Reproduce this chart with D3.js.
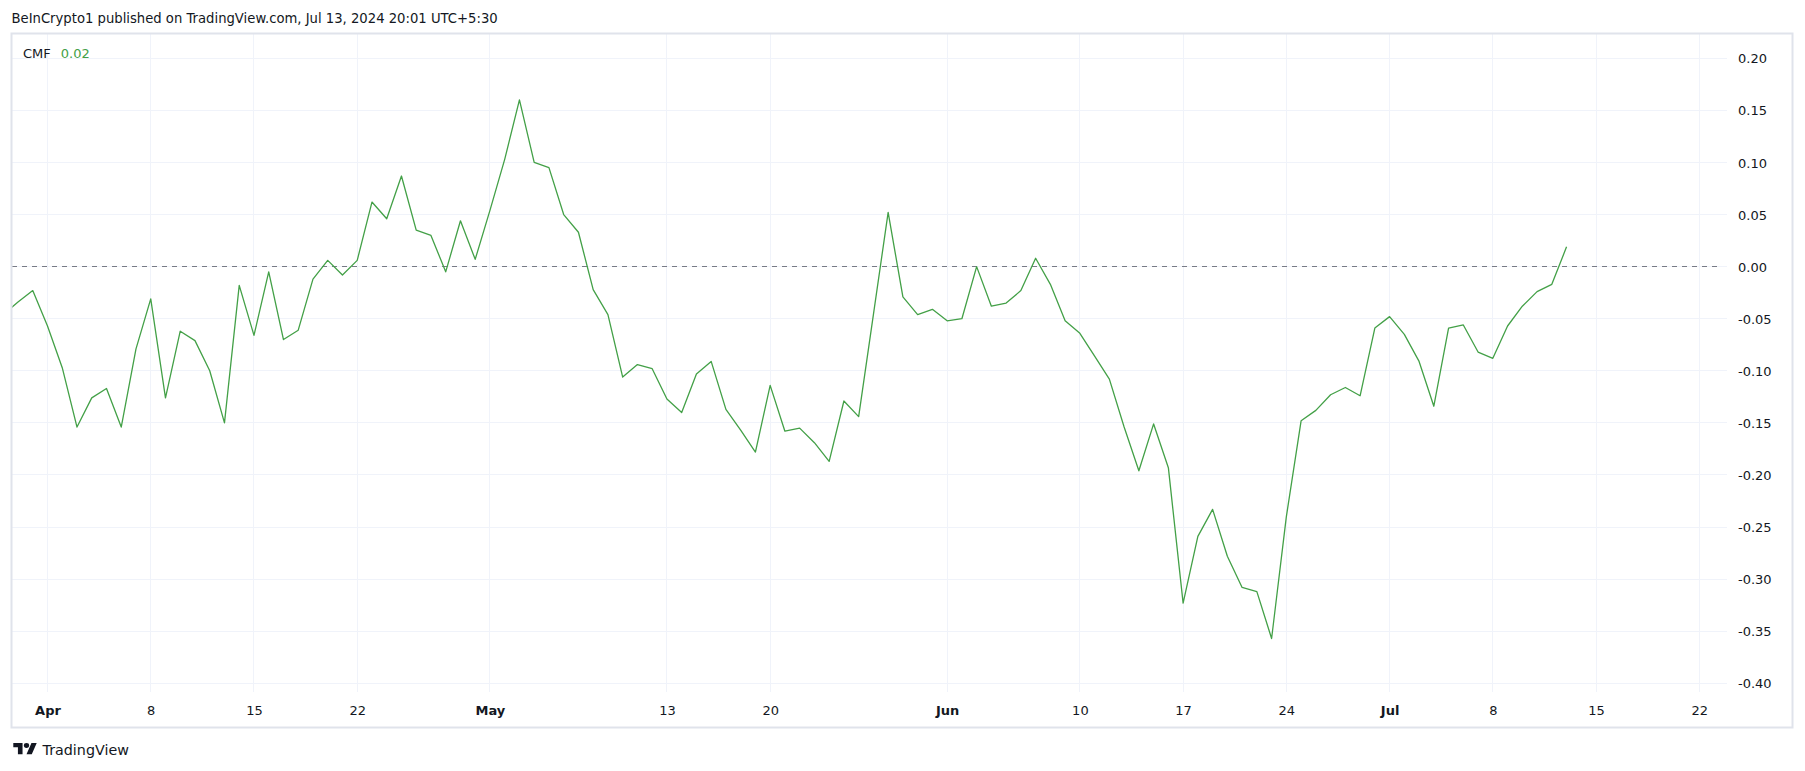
<!DOCTYPE html>
<html>
<head>
<meta charset="utf-8">
<script src="https://cdn.jsdelivr.net/npm/d3@7"></script>
<style>
  html, body { margin: 0; padding: 0; background: #ffffff; }
  svg { display: block; }
  text { font-family: "DejaVu Sans", Verdana, sans-serif; }
</style>
</head>
<body>
<svg id="chart" width="1805" height="771"></svg>
<script>
// ---------------- data ----------------
const title = "BeInCrypto1 published on TradingView.com, Jul 13, 2024 20:01 UTC+5:30";
const seriesName = "CMF";
const lastValueLabel = "0.02";
const startDay = "2024-03-29";
const endDay = "2024-07-13";
// daily CMF values, 2024-03-29 .. 2024-07-13
const cmfValues = [
  -0.046, -0.034, -0.023,
  -0.057, -0.097, -0.154, -0.126, -0.117, -0.154, -0.079, -0.031, -0.126, -0.062,
  -0.071, -0.100, -0.150, -0.018, -0.066, -0.005, -0.070, -0.061, -0.012, 0.006,
  -0.008, 0.006, 0.062, 0.046, 0.087, 0.035, 0.030, -0.005, 0.044, 0.007,
  0.054, 0.103, 0.160, 0.100, 0.095, 0.050, 0.033, -0.022, -0.046, -0.106,
  -0.094, -0.098, -0.127, -0.140, -0.103, -0.091, -0.137, -0.157, -0.178, -0.114,
  -0.158, -0.155, -0.169, -0.187, -0.129, -0.144, -0.046, 0.052, -0.029, -0.046,
  -0.041,
  -0.052, -0.050, 0.000, -0.038, -0.035, -0.023, 0.008, -0.017, -0.052, -0.064,
  -0.086, -0.108, -0.154, -0.196, -0.151, -0.193, -0.323, -0.259, -0.233, -0.278,
  -0.308, -0.312, -0.357, -0.240, -0.148, -0.138, -0.123, -0.116, -0.124, -0.059,
  -0.048, -0.065, -0.091, -0.134, -0.059, -0.056, -0.082, -0.088, -0.057, -0.038,
  -0.024, -0.017, 0.019
];
const xTickDates = ["2024-04-01","2024-04-08","2024-04-15","2024-04-22","2024-05-01","2024-05-13","2024-05-20",
  "2024-06-01","2024-06-10","2024-06-17","2024-06-24","2024-07-01","2024-07-08","2024-07-15","2024-07-22"];
const xTickLabels = ["Apr","8","15","22","May","13","20","Jun","10","17","24","Jul","8","15","22"];
const monthLabels = ["Apr","May","Jun","Jul"];
const yTicks = [0.20, 0.15, 0.10, 0.05, 0.00, -0.05, -0.10, -0.15, -0.20, -0.25, -0.30, -0.35, -0.40];

// ---------------- layout ----------------
const W = 1805, H = 771;
const panel = {x0: 12, y0: 34, x1: 1792, y1: 727};
const plot = {x0: 12, y0: 34, x1: 1727, y1: 692};
const C = {text: "#131722", grid: "#f0f3fa", border: "#e0e3eb", line: "#43a047", zero: "#787b86"};

const parse = d3.utcParse("%Y-%m-%d");
const dates = d3.utcDay.range(parse(startDay), d3.utcDay.offset(parse(endDay), 1));
const data = dates.map((d, i) => ({date: d, value: cmfValues[i]}));

const x = d3.scaleUtc()
  .domain([parse("2024-04-01"), parse("2024-07-22")])
  .range([47.5, 1699.3]);
const y = d3.scaleLinear()
  .domain([0.20, -0.40])
  .range([58.3, 683.3]);

const svg = d3.select("#chart");
svg.append("rect").attr("width", W).attr("height", H).attr("fill", "#fff");

// header
svg.append("text").attr("x", 11.5).attr("y", 23).attr("font-size", 13.2)
  .attr("fill", C.text).text(title);

// grid
const gGrid = svg.append("g");
gGrid.selectAll("line.v").data(xTickDates).join("line")
  .attr("x1", d => x(parse(d))).attr("x2", d => x(parse(d)))
  .attr("y1", plot.y0).attr("y2", plot.y1)
  .attr("stroke", C.grid).attr("stroke-width", 1).attr("shape-rendering", "crispEdges");
gGrid.selectAll("line.h").data(yTicks).join("line")
  .attr("x1", plot.x0).attr("x2", plot.x1)
  .attr("y1", d => y(d)).attr("y2", d => y(d))
  .attr("stroke", C.grid).attr("stroke-width", 1).attr("shape-rendering", "crispEdges");

// zero dashed line
svg.append("line")
  .attr("x1", plot.x0).attr("x2", plot.x1 - 5)
  .attr("y1", y(0)).attr("y2", y(0))
  .attr("stroke", C.zero).attr("stroke-width", 1).attr("stroke-dasharray", "5,5")
  .attr("shape-rendering", "crispEdges");

// clip
svg.append("clipPath").attr("id", "clip").append("rect")
  .attr("x", plot.x0).attr("y", plot.y0)
  .attr("width", plot.x1 - plot.x0).attr("height", plot.y1 - plot.y0);

// line
const line = d3.line().x(d => x(d.date)).y(d => y(d.value));
svg.append("path").datum(data)
  .attr("clip-path", "url(#clip)")
  .attr("d", line)
  .attr("fill", "none").attr("stroke", C.line).attr("stroke-width", 1.3)
  .attr("stroke-linejoin", "round");

// y axis labels
const yAxis = d3.axisRight(y).tickValues(yTicks).tickSize(0).tickPadding(0)
  .tickFormat(d => d3.format(".2f")(d).replace("\u2212", "-"));
const gy = svg.append("g").attr("transform", `translate(1738,0)`).call(yAxis);
gy.select(".domain").remove();
gy.selectAll("text").attr("font-size", 13).attr("fill", C.text)
  .attr("font-family", '"DejaVu Sans", Verdana, sans-serif')
  .attr("dy", "0.35em").attr("x", 0).attr("text-anchor", "start");

// x axis labels
const xAxis = d3.axisBottom(x).tickValues(xTickDates.map(parse)).tickSize(0).tickPadding(0)
  .tickFormat((d, i) => xTickLabels[i]);
const gx = svg.append("g").attr("transform", `translate(0,710.5)`).call(xAxis);
gx.select(".domain").remove();
gx.selectAll("text").attr("font-size", 13).attr("fill", C.text)
  .attr("font-family", '"DejaVu Sans", Verdana, sans-serif')
  .attr("dy", "0.35em").attr("y", 0)
  .attr("font-weight", (d, i) => monthLabels.includes(xTickLabels[i]) ? "bold" : "normal");

// panel border
svg.append("rect")
  .attr("x", panel.x0 - 0.5).attr("y", panel.y0 - 0.5)
  .attr("width", panel.x1 - panel.x0 + 1).attr("height", panel.y1 - panel.y0 + 1)
  .attr("fill", "none").attr("stroke", C.border).attr("stroke-width", 2);

// legend
const legend = svg.append("text").attr("x", 23).attr("y", 57.5).attr("font-size", 13);
legend.append("tspan").attr("fill", C.text).text(seriesName);
legend.append("tspan").attr("fill", C.line).attr("dx", 10).text(lastValueLabel);

// TradingView logo
const logo = svg.append("g").attr("transform", "translate(13.3,740.5) scale(0.66,0.62)");
logo.append("path").attr("d", "M14 22H7V11H0V4h14v18zM28 22h-8l7.5-18h8L28 22z").attr("fill", C.text);
logo.append("circle").attr("cx", 20).attr("cy", 8).attr("r", 4).attr("fill", C.text);
svg.append("text").attr("x", 42.5).attr("y", 754.5).attr("font-size", 14.3)
  .attr("fill", C.text).text("TradingView");
</script>
</body>
</html>
